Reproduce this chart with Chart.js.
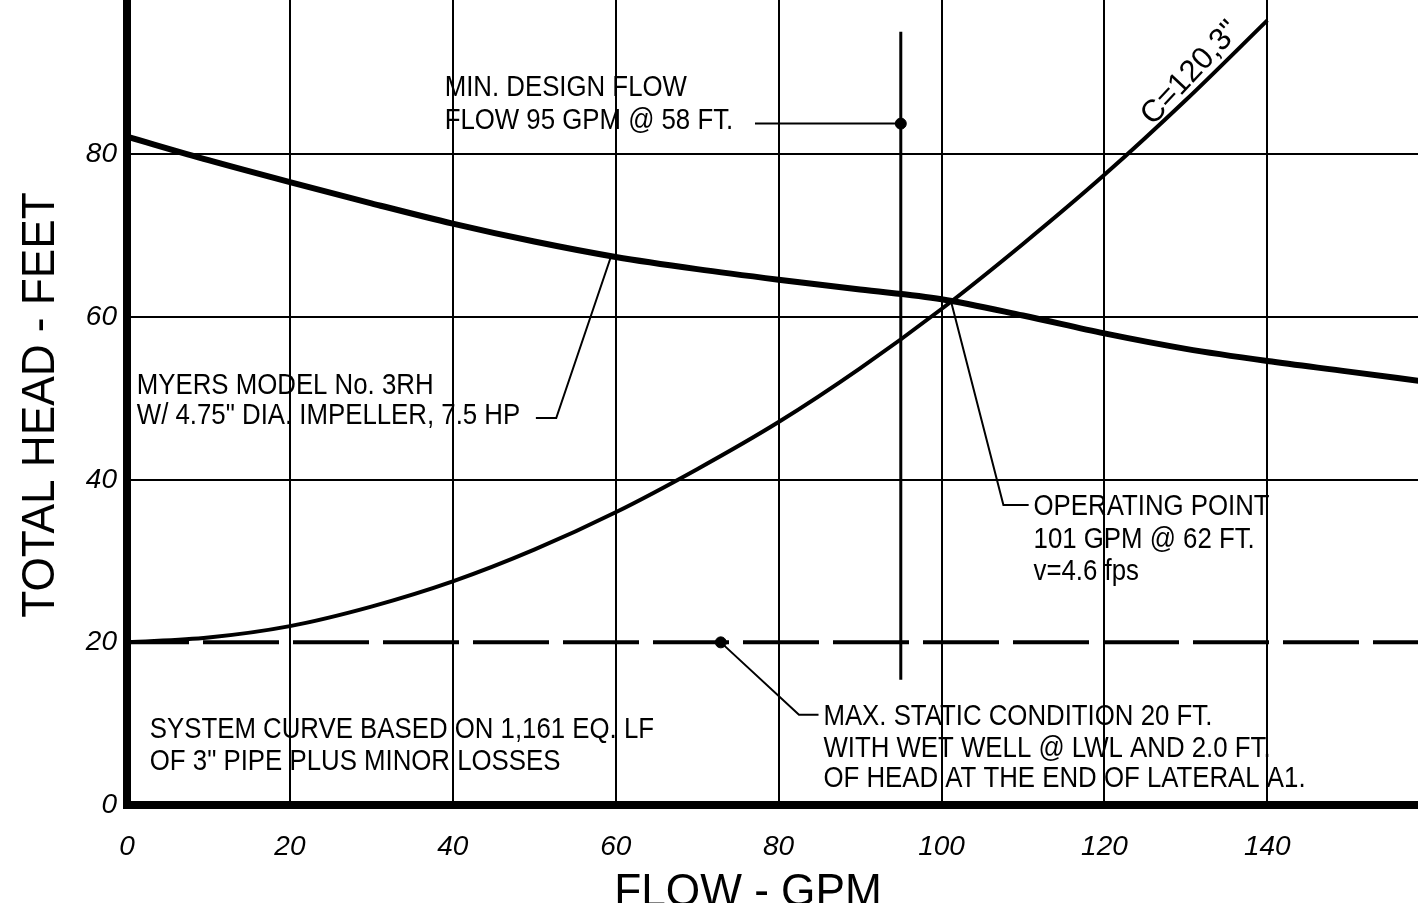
<!DOCTYPE html>
<html>
<head>
<meta charset="UTF-8">
<script src="https://cdn.jsdelivr.net/npm/chart.js@4.4.1/dist/chart.umd.min.js"></script>
<style>
  html, body { margin: 0; padding: 0; background: #fff; overflow: hidden; }
</style>
</head>
<body>
<canvas id="pumpChart" width="1418" height="903"></canvas>

<script>
    // pump curve - Myers 3RH, 4.75" impeller
    const pumpFlow = [0, 10, 20, 30, 40, 50, 60, 70, 80, 90, 100, 110, 120, 130, 140, 150, 159];
    const pumpHead = [82.2, 79.3, 76.6, 74.0, 71.5, 69.3, 67.4, 65.9, 64.6, 63.4, 62.2, 60.2, 58.0, 56.1, 54.6, 53.3, 52.1];

    // system curve, C=120, 3"
    const sysFlow = [0, 10, 20, 30, 40, 50, 60, 70, 80, 90, 100, 110, 120, 130, 140];
    const sysHead = [20, 20.6, 22.0, 24.4, 27.5, 31.4, 36.0, 41.3, 47.1, 53.7, 61.0, 69.0, 77.5, 86.7, 96.5];

    // max static condition
    const staticFlow = [0, 159];
    const staticHead = [20, 20];

    // min design flow marker line
    const minDesignFlow = [95, 95];
    const minDesignHead = [15.4, 95.1];

    // dots
    const dotFlow = [95, 72.9];
    const dotHead = [83.8, 20];

    // leader lines
    const leaderMinFlow = [77.1, 95];
    const leaderMinHead = [83.8, 83.8];
    const leaderPumpFlow = [59.4, 52.7, 50.2];
    const leaderPumpHead = [67.4, 47.6, 47.6];
    const leaderOpFlow = [101.1, 107.6, 110.7];
    const leaderOpHead = [62.2, 36.9, 36.9];
    const leaderStaticFlow = [72.9, 82.5, 84.9];
    const leaderStaticHead = [20, 11.1, 11.1];

    // axis ticks
    const xTicks = [0, 20, 40, 60, 80, 100, 120, 140];
    const yTicks = [0, 20, 40, 60, 80];

    // notes: text, flow (left edge), head (middle of line)
    const notes = [
        ['MIN. DESIGN FLOW', 39.0, 88.2],
        ['FLOW 95 GPM @ 58 FT.', 39.0, 84.2],
        ['MYERS MODEL No. 3RH', 1.2, 51.6],
        ['W/ 4.75" DIA. IMPELLER, 7.5 HP', 1.2, 47.9],
        ['OPERATING POINT', 111.3, 36.7],
        ['101 GPM @ 62 FT.', 111.3, 32.6],
        ['v=4.6 fps', 111.3, 28.7],
        ['MAX. STATIC CONDITION 20 FT.', 85.5, 10.8],
        ['WITH WET WELL @ LWL AND 2.0 FT.', 85.5, 6.9],
        ['OF HEAD AT THE END OF LATERAL A1.', 85.5, 3.2],
        ['SYSTEM CURVE BASED ON 1,161 EQ. LF', 2.8, 9.2],
        ['OF 3" PIPE PLUS MINOR LOSSES', 2.8, 5.3]
    ];
    const curveLabel = ['C=120,3"', 130.6, 90.0];

    function xy(xs, ys) {
        return xs.map((x, i) => ({ x: x, y: ys[i] }));
    }

    function leader(xs, ys) {
        return {
            data: xy(xs, ys),
            borderColor: '#000',
            borderWidth: 2,
            pointRadius: 0,
            tension: 0
        };
    }

    const FONT = '"Liberation Sans", Arial, sans-serif';

    function squeezedText(ctx, str, px, py, size, squeeze, angle) {
        ctx.save();
        ctx.translate(px, py);
        if (angle) ctx.rotate(angle);
        ctx.scale(squeeze, 1);
        ctx.font = size + 'px ' + FONT;
        ctx.fillText(str, 0, 0);
        ctx.restore();
    }

    const notesPlugin = {
        id: 'notes',
        afterDatasetsDraw(chart) {
            const ctx = chart.ctx;
            const xs = chart.scales.x;
            const ys = chart.scales.y;
            ctx.save();
            ctx.fillStyle = '#000';
            ctx.textBaseline = 'middle';
            ctx.textAlign = 'left';
            notes.forEach(n => {
                squeezedText(ctx, n[0], xs.getPixelForValue(n[1]), ys.getPixelForValue(n[2]), 30, 0.86);
            });
            ctx.textAlign = 'center';
            squeezedText(ctx, curveLabel[0], xs.getPixelForValue(curveLabel[1]), ys.getPixelForValue(curveLabel[2]), 31, 1.0, -47 * Math.PI / 180);

            // axis titles
            squeezedText(ctx, 'TOTAL HEAD - FEET', 41, 405, 47, 0.94, -Math.PI / 2);
            ctx.textBaseline = 'alphabetic';
            squeezedText(ctx, 'FLOW - GPM', 748, 906, 47, 0.94);
            ctx.restore();
        }
    };

    const ctx = document.getElementById('pumpChart').getContext('2d');
    const chart = new Chart(ctx, {
        type: 'line',
        data: {
            datasets: [
                {
                    label: 'Pump',
                    data: xy(pumpFlow, pumpHead),
                    borderColor: '#000',
                    borderWidth: 6,
                    pointRadius: 0,
                    cubicInterpolationMode: 'monotone'
                },
                {
                    label: 'System',
                    data: xy(sysFlow, sysHead),
                    borderColor: '#000',
                    borderWidth: 4,
                    pointRadius: 0,
                    cubicInterpolationMode: 'monotone'
                },
                {
                    label: 'Static',
                    data: xy(staticFlow, staticHead),
                    borderColor: '#000',
                    borderWidth: 4,
                    borderDash: [76, 14],
                    borderDashOffset: 14,
                    pointRadius: 0
                },
                {
                    label: 'Min design',
                    data: xy(minDesignFlow, minDesignHead),
                    borderColor: '#000',
                    borderWidth: 3,
                    pointRadius: 0
                },
                leader(leaderMinFlow, leaderMinHead),
                leader(leaderPumpFlow, leaderPumpHead),
                leader(leaderOpFlow, leaderOpHead),
                leader(leaderStaticFlow, leaderStaticHead),
                {
                    label: 'Dots',
                    data: xy(dotFlow, dotHead),
                    showLine: false,
                    pointRadius: 5.5,
                    pointBackgroundColor: '#000',
                    pointBorderColor: '#000'
                }
            ]
        },
        options: {
            responsive: false,
            animation: false,
            devicePixelRatio: 1,
            layout: { padding: 0, autoPadding: false },
            plugins: {
                legend: { display: false },
                tooltip: { enabled: false }
            },
            scales: {
                x: {
                    type: 'linear',
                    min: 0,
                    max: 158.5,
                    afterBuildTicks: s => { s.ticks = xTicks.map(v => ({ value: v })); },
                    afterFit: s => { s.height = 98; s.paddingLeft = 0; s.paddingRight = 0; },
                    grid: {
                        color: c => (c.tick && c.tick.value === 0) ? 'rgba(0,0,0,0)' : '#000',
                        lineWidth: 2,
                        drawTicks: false
                    },
                    border: { color: '#000', width: 8 },
                    ticks: {
                        color: '#000',
                        padding: 25,
                        maxRotation: 0,
                        autoSkip: false,
                        font: { family: FONT, size: 28, style: 'italic' }
                    }
                },
                y: {
                    type: 'linear',
                    min: 0,
                    max: 99,
                    afterBuildTicks: s => { s.ticks = yTicks.map(v => ({ value: v })); },
                    afterFit: s => { s.width = 127; s.paddingTop = 0; s.paddingBottom = 0; },
                    grid: {
                        color: c => (c.tick && (c.tick.value === 0 || c.tick.value === 20)) ? 'rgba(0,0,0,0)' : '#000',
                        lineWidth: 2,
                        drawTicks: false
                    },
                    border: { color: '#000', width: 8 },
                    ticks: {
                        color: '#000',
                        padding: 10,
                        font: { family: FONT, size: 28, style: 'italic' }
                    }
                }
            }
        },
        plugins: [notesPlugin]
    });
</script>
</body>
</html>
